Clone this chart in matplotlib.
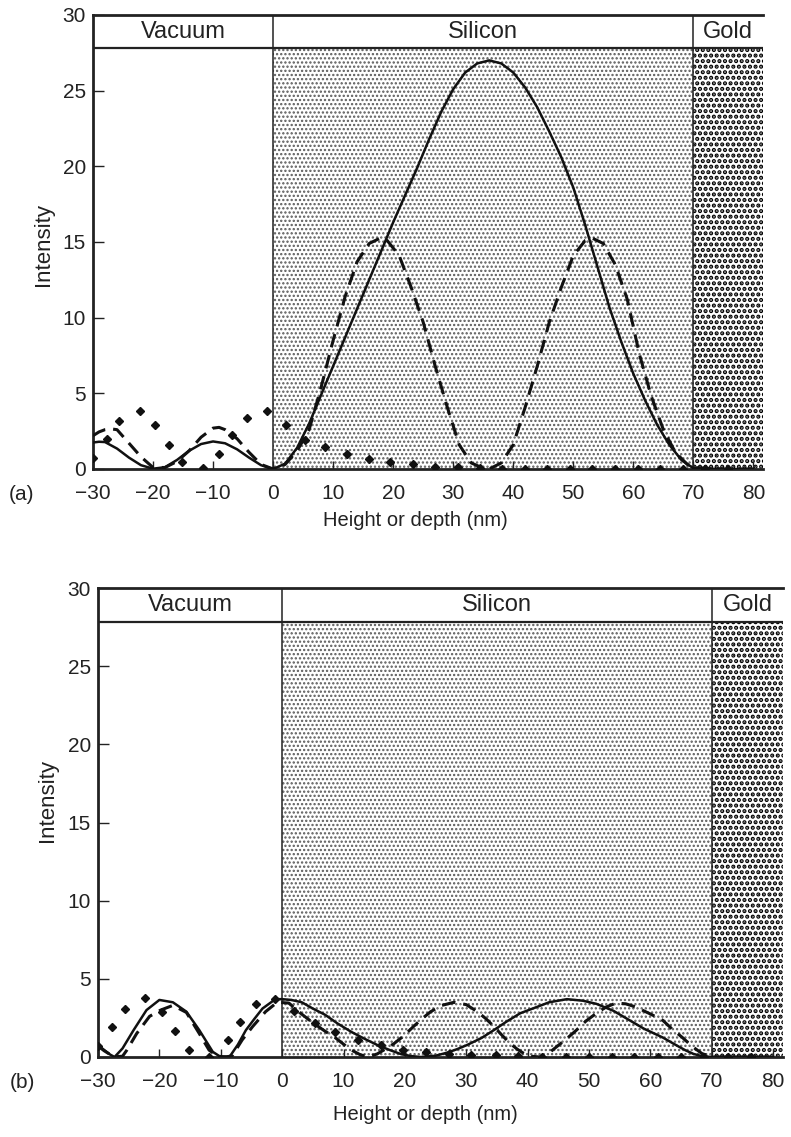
import matplotlib
matplotlib.use("Agg")
import matplotlib.pyplot as plt
from matplotlib.patches import Rectangle

plt.rcParams['font.family'] = ['Liberation Sans', 'DejaVu Sans']

# ---------------- data : panel (a) ----------------
a_solid_x = [-30, -29, -28, -26, -24, -22, -20, -18, -16, -14, -12, -10, -8, -6, -4, -2, 0,
             2, 4, 6, 8, 10, 12, 14, 16, 18, 20, 22, 24, 26, 28, 30, 32, 34, 36, 38, 40,
             42, 44, 46, 48, 50, 52, 54, 56, 58, 60, 62, 64, 66, 68, 70, 75, 80]
a_solid_y = [1.75, 1.8, 1.78, 1.35, 0.75, 0.25, 0.02, 0.12, 0.6, 1.2, 1.65, 1.82, 1.7, 1.3, 0.75, 0.25, 0.0,
             0.35, 1.4, 3.0, 4.9, 6.8, 8.7, 10.6, 12.5, 14.4, 16.3, 18.1, 19.9, 21.8, 23.6, 25.1, 26.2, 26.8, 27.0, 26.8, 26.2,
             25.2, 23.9, 22.3, 20.6, 18.6, 16.1, 13.4, 10.7, 8.4, 6.3, 4.5, 2.9, 1.6, 0.6, 0.05, 0.0, 0.0]

a_dash_x = [-30, -29, -28, -27, -26, -24, -22, -20, -18, -16, -14, -12, -10, -9, -8, -6, -4, -2, 0,
            2, 4, 6, 8, 10, 12, 14, 16, 17.8, 19, 21, 23, 25, 27, 29, 31, 33, 35, 36,
            38, 40, 42, 44, 46, 48, 50, 52, 53.2, 55, 57, 59, 61, 63, 65, 67, 69, 70, 75, 80]
a_dash_y = [2.2, 2.45, 2.6, 2.65, 2.6, 1.7, 0.8, 0.1, 0.1, 0.5, 1.2, 2.1, 2.7, 2.75, 2.6, 2.0, 1.1, 0.3, 0.0,
            0.3, 1.2, 2.6, 5.4, 8.5, 11.4, 13.7, 14.9, 15.25, 15.1, 14.1, 12.0, 9.7, 6.8, 4.1, 1.6, 0.4, 0.05, 0.0,
            0.4, 1.6, 4.1, 6.8, 9.7, 12.0, 14.1, 15.1, 15.25, 14.9, 13.5, 11.2, 7.6, 4.8, 2.6, 1.1, 0.3, 0.1, 0.0, 0.0]

a_dot_x = [-30, -27.7, -25.6, -22.2, -19.6, -17.3, -15.1, -11.7, -9, -6.8, -4.4, -1, 2.1, 5.3, 8.7,
           12.3, 15.9, 19.5, 23.3, 27, 30.8, 34.5, 38.2, 42, 45.7, 49.5, 53.2, 57, 60.7, 64.5, 68.2, 72, 75.7]
a_dot_y = [0.72, 2.0, 3.2, 3.8, 2.9, 1.6, 0.45, 0.05, 1.0, 2.25, 3.4, 3.8, 2.9, 1.9, 1.45,
           1.0, 0.65, 0.45, 0.3, 0.15, 0.1, 0.05, 0.0, 0.0, 0.0, 0.0, 0.0, 0.0, 0.0, 0.0, 0.0, 0.0, 0.0]

# ---------------- data : panel (b) ----------------
b_solid_x = [-30, -29, -28, -27.3, -26, -24.2, -22.1, -20, -17.8, -15.6, -13.5, -11.3, -10, -8.5, -7.2, -5.9, -4.5,
             -3.2, -1.1, 0, 1.5, 3.2, 5, 7, 9, 11.3, 13.5, 15.6, 17.5, 19.4, 21, 22.6, 25, 26.9, 28.5, 30.2,
             32.5, 34.5, 36.5, 38.8, 41.5, 43.5, 46.4, 49, 51.2, 54, 56.6, 59, 62, 64, 65.7, 67, 68.4, 70, 75, 80]
b_solid_y = [0.77, 0.45, 0.15, 0.0, 0.55, 1.72, 3.0, 3.65, 3.5, 2.9, 1.72, 0.33, 0.0, 0.05, 0.8, 1.72, 2.45,
             3.1, 3.7, 3.7, 3.65, 3.5, 3.1, 2.7, 2.15, 1.6, 1.15, 0.75, 0.45, 0.18, 0.06, 0.0, 0.08, 0.28, 0.5, 0.78,
             1.22, 1.72, 2.25, 2.8, 3.2, 3.5, 3.7, 3.6, 3.4, 2.95, 2.35, 1.8, 1.25, 0.8, 0.43, 0.2, 0.05, 0.0, 0.0, 0.0]

b_dash_x = [-30, -29, -28, -27, -26, -25.3, -23.7, -21.6, -19.8, -17.8, -15.6, -13.5, -11.9, -10.5, -9, -8.1,
            -6.5, -4.8, -2.7, -0.8, 1.1, 3, 4.8, 6.8, 8.6, 10, 11.3, 12.7, 14, 15.5, 16.8, 18.2, 19.8, 21.4,
            22.8, 24.2, 26, 28, 30, 31.8, 33.2, 34.5, 35.8, 37.2, 38.3, 39.4, 40.5, 42, 43.3, 44.7, 46.3,
            47.9, 49.5, 51.2, 52.8, 54.4, 56, 57.6, 60, 62, 63.5, 65.2, 66.8, 68.4, 70, 75, 80]
b_dash_y = [0.7, 0.4, 0.15, 0.02, 0.05, 0.44, 1.5, 2.6, 3.0, 3.3, 2.85, 1.5, 0.44, 0.05, 0.0, 0.1,
            1.1, 1.95, 2.9, 3.5, 3.45, 2.8, 2.25, 1.7, 1.25, 0.82, 0.44, 0.15, 0.0, 0.2, 0.5, 0.85, 1.35, 1.95,
            2.45, 2.9, 3.3, 3.5, 3.35, 2.9, 2.45, 1.95, 1.4, 0.85, 0.5, 0.22, 0.05, 0.0, 0.2, 0.65, 1.15,
            1.7, 2.3, 2.8, 3.2, 3.45, 3.4, 3.2, 2.75, 2.35, 1.8, 1.25, 0.68, 0.22, 0.0, 0.0, 0.0]

b_dot_x = [-30, -27.7, -25.6, -22.4, -19.5, -17.4, -15.2, -11.9, -8.9, -6.8, -4.3, -1.1, 2.0, 5.3, 8.6,
           12.4, 16.1, 19.7, 23.5, 27.2, 30.7, 34.8, 38.5, 42.3, 46.3, 50, 53.7, 57.4, 61.2, 65, 68.8, 72.7, 76.4]
b_dot_y = [0.7, 1.9, 3.1, 3.75, 2.9, 1.68, 0.47, 0.0, 1.07, 2.25, 3.4, 3.7, 2.95, 2.15, 1.6,
           1.07, 0.75, 0.47, 0.32, 0.21, 0.15, 0.1, 0.05, 0.0, 0.0, 0.0, 0.0, 0.0, 0.0, 0.0, 0.0, 0.0, 0.0]

regions = ["Vacuum", "Silicon", "Gold"]
region_bounds = [-30, 0, 70, 81.6]
x_ticks = [-30, -20, -10, 0, 10, 20, 30, 40, 50, 60, 70, 80]
y_ticks = [0, 5, 10, 15, 20, 25, 30]
band_bottom = 27.8

W, H = 791, 1137
fig = plt.figure(figsize=(W / 100, H / 100), dpi=100)


def px_axes(l, t, r, b):
    return fig.add_axes([l / W, 1 - b / H, (r - l) / W, (b - t) / H])


def hatched(ax, x0, x1, hatch, color, hlw, face):
    with plt.rc_context({'hatch.linewidth': hlw}):
        p = Rectangle((x0, 0), x1 - x0, band_bottom, facecolor=face, edgecolor=color,
                      linewidth=0, hatch=hatch, zorder=1)
        if hasattr(p, 'set_hatch_linewidth'):
            p.set_hatch_linewidth(hlw)
        ax.add_patch(p)


def panel(ax, sx, sy, dx, dy, ox, oy, xl_pos, yl_pos):
    x0, x1 = region_bounds[0], region_bounds[-1]
    ax.set_xlim(x0, x1)
    ax.set_ylim(0, 30)
    hatched(ax, region_bounds[1], region_bounds[2], '....', '#5a5a5a', 1.1, 'white')
    hatched(ax, region_bounds[2], region_bounds[3], '...', '#000000', 2.1, 'white')
    # header band
    ax.add_patch(Rectangle((x0, band_bottom), x1 - x0, 30 - band_bottom, facecolor='white',
                           edgecolor='none', zorder=2))
    ax.axhline(band_bottom, color='#222222', lw=1.6, zorder=3)
    for xb in region_bounds[1:3]:
        ax.axvline(xb, color='#222222', lw=1.1, zorder=3)
    for i, name in enumerate(regions):
        cx = (region_bounds[i] + region_bounds[i + 1]) / 2
        ax.text(cx, (band_bottom + 30) / 2, name, ha='center', va='center',
                fontsize=17, color='#222222', zorder=4)
    ax.plot(sx, sy, color='#111111', lw=1.8, zorder=5, solid_capstyle='round')
    ax.plot(dx, dy, color='#111111', lw=2.2, zorder=5, dashes=(4.5, 2.6))
    ax.plot(ox, oy, linestyle='none', marker='D', ms=4.4, color='#111111', zorder=5)
    ax.set_xticks(x_ticks)
    ax.set_yticks(y_ticks)
    ax.tick_params(axis='both', direction='in', labelsize=15, colors='#222222', width=1.0)
    ax.tick_params(axis='y', length=8, pad=5)
    ax.tick_params(axis='x', length=6, pad=11)
    for s in ['left', 'bottom', 'top']:
        ax.spines[s].set_linewidth(2.0)
        ax.spines[s].set_color('#222222')
    ax.spines['right'].set_visible(False)
    ax.set_xlabel("Height or depth (nm)", fontsize=14.5, color='#222222')
    ax.set_ylabel("Intensity", fontsize=16, color='#222222')
    ax.xaxis.set_label_coords(*xl_pos, transform=fig.transFigure)
    ax.xaxis.label.set_verticalalignment('center')
    ax.yaxis.set_label_coords(*yl_pos, transform=fig.transFigure)
    ax.yaxis.label.set_verticalalignment('center')
    return ax


ax_a = px_axes(93, 15, 763, 469)
panel(ax_a, a_solid_x, a_solid_y, a_dash_x, a_dash_y, a_dot_x, a_dot_y,
      (415 / W, 1 - 520 / H), (44 / W, 1 - 244 / H))
fig.text(22 / W, 1 - 495 / H, "(a)", ha='center', va='center', fontsize=15, color='#222222')

ax_b = px_axes(98, 588, 783, 1057)
panel(ax_b, b_solid_x, b_solid_y, b_dash_x, b_dash_y, b_dot_x, b_dot_y,
      (425 / W, 1 - 1115 / H), (47 / W, 1 - 800 / H))
fig.text(22 / W, 1 - 1083 / H, "(b)", ha='center', va='center', fontsize=15, color='#222222')

fig.savefig("out.png", dpi=100)
